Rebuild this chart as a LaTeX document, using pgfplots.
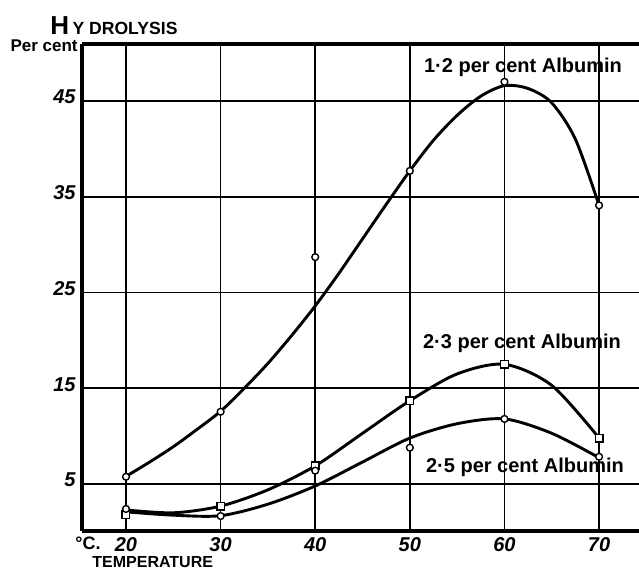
\documentclass[border=0pt]{standalone}
\usepackage{fontspec}
\setmainfont{Liberation Sans}
\usepackage{pgfplots}
\pgfplotsset{compat=1.18}
\begin{document}
\begin{tikzpicture}
\useasboundingbox (-41pt,-20.5pt) rectangle (278.5pt,265.5pt);
\begin{axis}[
  at={(0pt,0pt)}, anchor=south west,
  scale only axis, width=278.5pt, height=243.5pt,
  xmin=15.35, xmax=74.22, ymin=0.1, ymax=50.95,
  axis x line*=box, axis y line*=left,
  axis line style={-, line width=1.9pt},
  xtick={20,30,40,50,60,70}, ytick={5,15,25,35,45},
  grid=major, major grid style={black, line width=0.8pt},
  major tick length=0pt,
  /pgf/number format/assume math mode=true,
  xticklabel style={font=\itshape\bfseries\fontsize{10}{11}\selectfont, anchor=north, inner sep=0pt, yshift=-3pt},
  yticklabel style={font=\itshape\bfseries\fontsize{10}{11}\selectfont, anchor=east, inner sep=0pt, xshift=-3pt, yshift=2pt},
]
% 1.2 per cent curve (as drawn)
\addplot[black, line width=1.45pt, smooth, tension=0.5, no marks] coordinates {
 (20,5.8) (22.5,7.3) (25,8.9) (27.5,10.7) (30,12.6) (32.5,15.0) (35,17.6) (37.5,20.5) (40,23.6) (42.5,27.0) (45,30.6) (47.5,34.2) (50,37.7) (52.5,40.9) (55,43.5) (57.5,45.5) (60,46.6) (62.5,46.3) (65,44.8) (67.5,41.0) (70,34.1)};
% 2.3 per cent curve
\addplot[black, line width=1.45pt, smooth, tension=0.5, no marks] coordinates {
 (20,2.3) (25,2.0) (30,2.7) (35,4.4) (40,6.9) (45,10.3) (50,13.7) (55,16.5) (60,17.5) (65,15.3) (70,9.8)};
% 2.5 per cent curve
\addplot[black, line width=1.45pt, smooth, tension=0.5, no marks] coordinates {
 (20,2.1) (25,1.75) (30,1.7) (35,2.9) (40,4.8) (45,7.3) (50,9.8) (55,11.3) (60,11.8) (65,10.3) (70,7.75)};
% observed points
\addplot[only marks, mark=*, mark size=1.7pt, mark options={fill=white, draw=black, line width=0.7pt}] coordinates {
 (20,5.76) (30,12.55) (40,28.7) (50,37.7) (60,47.0) (70,34.1)};
\addplot[only marks, mark=square*, mark size=1.9pt, mark options={fill=white, draw=black, line width=0.7pt}] coordinates {
 (20,1.8) (30,2.7) (40,6.9) (50,13.7) (60,17.5) (70,9.8)};
\addplot[only marks, mark=*, mark size=1.7pt, mark options={fill=white, draw=black, line width=0.7pt}] coordinates {
 (20,2.4) (30,1.66) (40,6.4) (50,8.8) (60,11.8) (70,7.85)};
\end{axis}
\node[anchor=base west, inner sep=0pt, font=\bfseries] at (-16pt,248pt) {{\fontsize{13}{14}\selectfont H}\,{\fontsize{8.8}{9}\selectfont Y DROLYSIS}};
\node[anchor=east, inner sep=0pt, font=\bfseries\fontsize{8.5}{9}\selectfont] at (-2pt,242.5pt) {Per cent};
\node[anchor=west, inner sep=0pt, font=\bfseries\fontsize{9}{10}\selectfont] at (-3.5pt,-6pt) {°C.};
\node[anchor=west, inner sep=0pt, font=\bfseries\fontsize{8}{9}\selectfont] at (5pt,-15.5pt) {TEMPERATURE};
\node[inner sep=0pt, font=\bfseries\fontsize{10}{11}\selectfont] at (220.5pt,232pt) {1·2 per cent Albumin};
\node[inner sep=0pt, font=\bfseries\fontsize{10}{11}\selectfont] at (220pt,94pt) {2·3 per cent Albumin};
\node[inner sep=0pt, font=\bfseries\fontsize{10}{11}\selectfont] at (221.5pt,32pt) {2·5 per cent Albumin};
\end{tikzpicture}
\end{document}
